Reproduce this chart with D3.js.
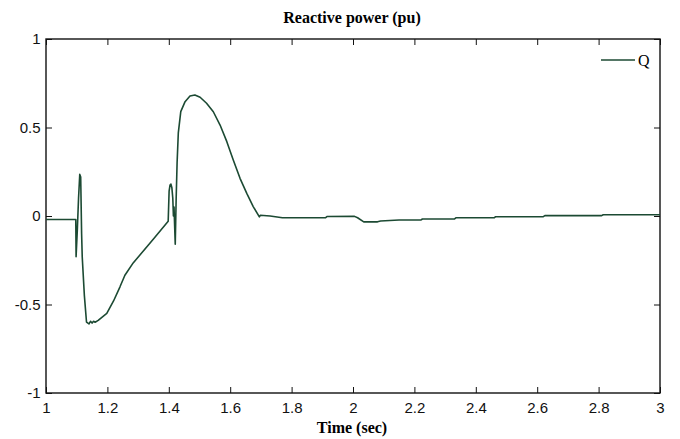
<!DOCTYPE html>
<html><head><meta charset="utf-8">
<script src="https://cdn.jsdelivr.net/npm/d3@7"></script>
<style>body{margin:0;background:#fff}</style>
</head><body>
<svg id="c" width="680" height="439"></svg>
<script>
const title = "Reactive power (pu)";
const xLabel = "Time (sec)";
const seriesName = "Q";
const xTicks = [1, 1.2, 1.4, 1.6, 1.8, 2, 2.2, 2.4, 2.6, 2.8, 3];
const yTicks = [-1, -0.5, 0, 0.5, 1];
const time = [1.0, 1.097, 1.098, 1.102, 1.106, 1.110, 1.113, 1.116, 1.118, 1.125, 1.132, 1.140, 1.145, 1.150, 1.155, 1.160, 1.170, 1.180, 1.198, 1.220, 1.241, 1.257, 1.284, 1.306, 1.350, 1.398,
  1.401, 1.404, 1.407, 1.410, 1.413, 1.415, 1.417, 1.421, 1.424, 1.427, 1.431, 1.439, 1.453, 1.469, 1.485, 1.502, 1.523, 1.545, 1.567, 1.589, 1.610, 1.632, 1.654, 1.675, 1.695, 1.698,
  1.730, 1.770, 1.910, 1.915, 2.005, 2.015, 2.035, 2.080, 2.090, 2.150, 2.222, 2.226, 2.330, 2.335, 2.460, 2.465, 2.620, 2.625, 2.810, 2.815, 3.0];
const q = [-0.02, -0.02, -0.23, -0.08, 0.10, 0.235, 0.22, -0.10, -0.23, -0.45, -0.60, -0.61, -0.595, -0.605, -0.595, -0.60, -0.59, -0.575, -0.55, -0.48, -0.40, -0.335, -0.265, -0.22, -0.13, -0.03,
  0.14, 0.175, 0.18, 0.16, 0.10, 0.0, 0.05, -0.16, 0.10, 0.30, 0.47, 0.59, 0.646, 0.678, 0.684, 0.671, 0.637, 0.589, 0.514, 0.42, 0.316, 0.213, 0.128, 0.053, -0.005, 0.004,
  0.0, -0.01, -0.01, -0.003, -0.002, -0.01, -0.033, -0.033, -0.028, -0.023, -0.022, -0.017, -0.017, -0.01, -0.01, -0.004, -0.004, 0.002, 0.002, 0.007, 0.007];

const svg = d3.select("#c");
const L = 46, R = 660, T = 39, B = 393;
const x = d3.scaleLinear().domain([1, 3]).range([L, R]);
const y = d3.scaleLinear().domain([-1, 1]).range([B, T]);
const tickLen = 6;
const axisColor = "#111";

// box
svg.append("rect").attr("x", L).attr("y", T).attr("width", R - L).attr("height", B - T)
  .attr("fill", "none").attr("stroke", axisColor).attr("stroke-width", 1.4);

const tickFont = "'Liberation Sans', Arial, sans-serif";
const fmt = d => String(d);
const xb = svg.append("g").attr("transform", `translate(0,${B})`)
  .call(d3.axisBottom(x).tickValues(xTicks).tickSize(-tickLen).tickPadding(9).tickFormat(fmt));
const xt = svg.append("g").attr("transform", `translate(0,${T})`)
  .call(d3.axisTop(x).tickValues(xTicks).tickSize(-tickLen).tickFormat(""));
const yl = svg.append("g").attr("transform", `translate(${L},0)`)
  .call(d3.axisLeft(y).tickValues(yTicks).tickSize(-tickLen).tickPadding(4).tickFormat(fmt));
const yr = svg.append("g").attr("transform", `translate(${R},0)`)
  .call(d3.axisRight(y).tickValues(yTicks).tickSize(-tickLen).tickFormat(""));
[xb, xt, yl, yr].forEach(g => {
  g.select(".domain").remove();
  g.selectAll("line").attr("stroke", axisColor).attr("stroke-width", 1);
  g.selectAll("text").attr("font-family", tickFont).attr("font-size", 15).attr("fill", "#111");
});
yl.selectAll("text").attr("dx", "-0.1em");

// line
svg.append("path").datum(time.map((t, i) => [t, q[i]]))
  .attr("fill", "none").attr("stroke", "#1c4a33").attr("stroke-width", 1.6)
  .attr("stroke-linejoin", "round")
  .attr("d", d3.line().x(d => x(d[0])).y(d => y(d[1])));

// title and x label
const serif = "'Liberation Serif', 'Times New Roman', serif";
svg.append("text").attr("x", 352).attr("y", 23).attr("text-anchor", "middle")
  .attr("font-family", serif).attr("font-weight", "bold").attr("font-size", 16).text(title);
svg.append("text").attr("x", 352).attr("y", 433).attr("text-anchor", "middle")
  .attr("font-family", serif).attr("font-weight", "bold").attr("font-size", 16).text(xLabel);

// legend
svg.append("line").attr("x1", 601).attr("x2", 635).attr("y1", 60).attr("y2", 60)
  .attr("stroke", "#1c4a33").attr("stroke-width", 1.6);
svg.append("text").attr("x", 638).attr("y", 66).attr("font-family", serif)
  .attr("font-size", 16).text(seriesName);
</script>
</body></html>
